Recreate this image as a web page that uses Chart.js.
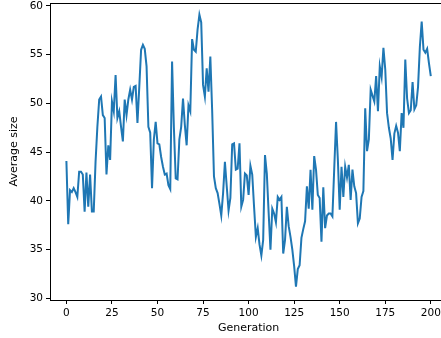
<!DOCTYPE html>
<html>
<head>
<meta charset="utf-8">
<script src="https://cdn.jsdelivr.net/npm/chart.js@4.4.0/dist/chart.umd.min.js"></script>
<style>
    html, body { margin: 0; padding: 0; background: #fff; }
    #wrap { width: 441px; height: 338px; position: relative; }
</style>
</head>
<body>
<div id="wrap"><canvas id="sizeChart" width="441" height="338"></canvas></div>
<script>
// Average size per generation (index = generation)
const averageSize = [
    44.1, 37.6, 41.1, 40.9, 41.3, 40.9, 40.4, 43.0, 43.0, 42.7,
    38.9, 42.9, 39.4, 42.7, 38.9, 38.9, 44.0, 47.6, 50.4, 50.7,
    48.8, 48.5, 42.7, 45.7, 44.2, 50.2, 49.2, 52.9, 48.5, 49.2,
    47.6, 46.1, 50.4, 48.8, 50.4, 51.4, 50.4, 51.7, 51.8, 48.0,
    51.7, 55.5, 56.0, 55.6, 53.8, 47.6, 47.0, 41.3, 46.3, 48.1,
    45.9, 45.8, 44.5, 43.5, 42.7, 42.8, 41.6, 41.2, 54.3, 47.5,
    42.3, 42.2, 46.3, 47.6, 50.5, 47.8, 45.7, 49.8, 49.2, 56.6,
    55.5, 55.3, 57.6, 59.1, 58.3, 51.9, 50.7, 53.6, 51.2, 54.8,
    49.3, 42.5, 41.3, 40.8, 39.7, 38.5, 40.8, 44.0, 41.5, 39.0,
    40.3, 45.8, 45.9, 43.2, 43.3, 45.9, 39.4, 40.1, 42.8, 42.6,
    40.6, 43.6, 42.7, 39.4, 36.3, 37.2, 35.5, 34.4, 36.0, 44.7,
    42.8, 38.8, 35.0, 39.2, 38.7, 37.8, 40.4, 40.1, 40.4, 34.6,
    36.0, 39.4, 37.4, 36.3, 35.0, 33.3, 31.2, 33.0, 33.4, 36.2,
    37.1, 37.9, 41.5, 39.2, 43.2, 39.1, 44.6, 43.2, 40.6, 40.3,
    35.8, 41.4, 37.2, 38.5, 38.7, 38.7, 38.4, 43.3, 48.1, 44.2,
    39.1, 43.5, 40.4, 43.5, 42.4, 43.7, 40.1, 43.2, 41.5, 40.8,
    37.7, 38.2, 40.4, 41.0, 49.5, 45.1, 46.3, 51.4, 50.8, 50.2,
    52.8, 49.2, 53.8, 52.7, 55.7, 53.5, 49.0, 47.5, 46.4, 44.2,
    46.9, 47.7, 47.0, 45.1, 49.0, 47.5, 54.5, 50.5, 49.0, 49.3,
    52.2, 49.4, 49.8, 51.7, 55.8, 58.4, 55.5, 55.2, 55.6, 54.1,
    52.8
];

const xTicks = [0, 25, 50, 75, 100, 125, 150, 175, 200];
const yTicks = [30, 35, 40, 45, 50, 55, 60];
const xLabel = 'Generation';
const yLabel = 'Average size';

const points = averageSize.map((v, gen) => ({ x: gen, y: v }));

const tickFont = { family: 'DejaVu Sans', size: 10.5 };
const labelFont = { family: 'DejaVu Sans', size: 11 };

// matplotlib-like top spine and x label (the axes run past the right edge)
const frameExtras = {
    id: 'frameExtras',
    afterDraw(chart) {
        const a = chart.chartArea;
        const c = chart.ctx;
        c.save();
        c.strokeStyle = '#000';
        c.lineWidth = 1;
        c.beginPath();
        c.moveTo(a.left, a.top + 0.5);
        c.lineTo(a.right, a.top + 0.5);
        c.stroke();

        c.fillStyle = '#000';
        c.font = labelFont.size + 'px "' + labelFont.family + '"';
        c.textAlign = 'center';
        c.textBaseline = 'middle';
        c.fillText(xLabel, chart.scales.x.getPixelForValue(100), 328);
        c.restore();
    }
};

const ctx = document.getElementById('sizeChart').getContext('2d');
new Chart(ctx, {
    type: 'line',
    data: {
        datasets: [{
            data: points,
            borderColor: '#1f77b4',
            borderWidth: 2,
            pointRadius: 0,
            tension: 0,
            fill: false
        }]
    },
    options: {
        responsive: false,
        animation: false,
        layout: { padding: { top: 3, right: 0, left: 0, bottom: 0 } },
        plugins: { legend: { display: false }, tooltip: { enabled: false } },
        scales: {
            x: {
                type: 'linear',
                min: -9,
                max: 205.6,
                afterBuildTicks: s => { s.ticks = xTicks.map(v => ({ value: v })); },
                afterFit: s => { s.height = 38; s.paddingRight = 0; s.paddingLeft = 0; },
                grid: { drawOnChartArea: false, drawTicks: true, tickLength: 4, tickColor: '#000' },
                border: { display: true, color: '#000', width: 1 },
                ticks: { font: tickFont, color: '#000', padding: 3, maxRotation: 0, callback: v => String(v) },
                title: { display: false }
            },
            y: {
                type: 'linear',
                min: 29.83,
                max: 60.3,
                afterBuildTicks: s => { s.ticks = yTicks.map(v => ({ value: v })); },
                afterFit: s => { s.width = 50; s.paddingTop = 0; s.paddingBottom = 0; },
                grid: { drawOnChartArea: false, drawTicks: true, tickLength: 4, tickColor: '#000' },
                border: { display: true, color: '#000', width: 1 },
                ticks: { font: tickFont, color: '#000', padding: 3, callback: v => String(v) },
                title: { display: true, text: yLabel, font: labelFont, color: '#000', padding: { top: 8, bottom: 0 } }
            }
        }
    },
    plugins: [frameExtras]
});
</script>
</body>
</html>
